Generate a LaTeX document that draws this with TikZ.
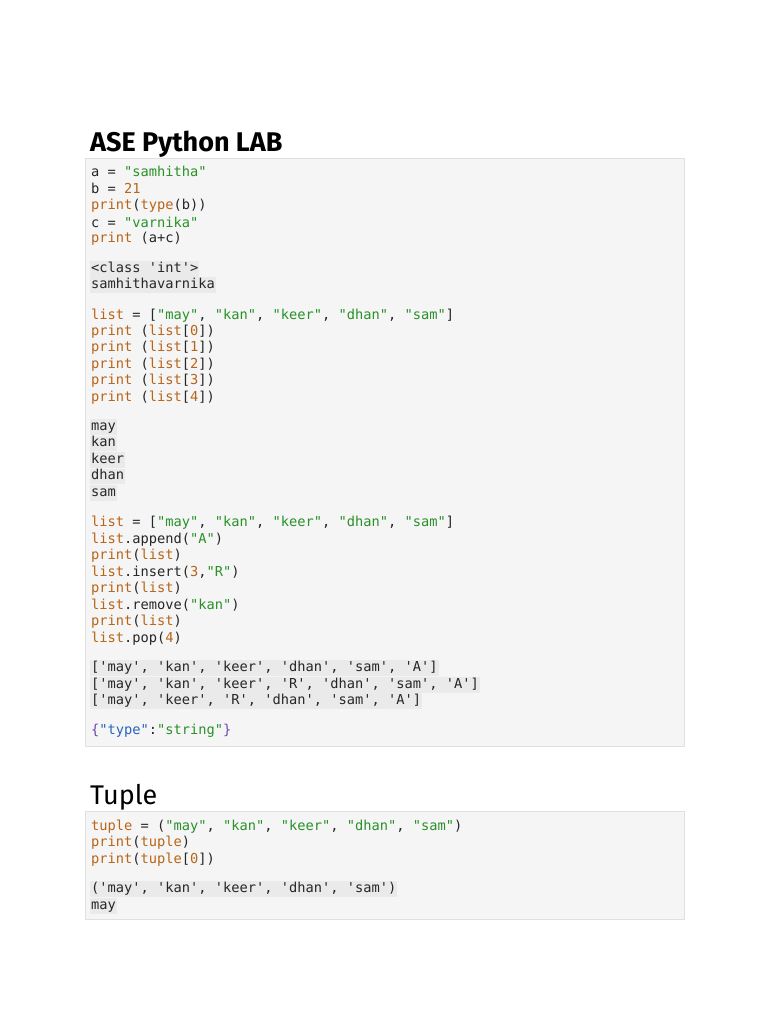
\documentclass[tikz,border=0pt]{standalone}
\usepackage{fontspec}
\setmainfont{Fira Sans}
\setmonofont{DejaVu Sans Mono}
\definecolor{kw}{RGB}{184,101,24}
\definecolor{st}{RGB}{40,145,40}
\definecolor{jb}{RGB}{40,100,190}
\definecolor{br}{RGB}{110,70,170}
\definecolor{cellbg}{RGB}{245,245,245}
\definecolor{cellrule}{RGB}{224,224,224}
\definecolor{outbg}{RGB}{234,234,234}
\newcommand\kw[1]{\textcolor{kw}{#1}}
\newcommand\st[1]{\textcolor{st}{#1}}
\tikzset{
  code/.style={anchor=base west, inner xsep=0pt, inner ysep=0pt, font=\ttfamily\fontsize{13.7}{16}\selectfont, text=black!85},
  outl/.style={code, fill=outbg, inner xsep=1pt, text height=11pt, text depth=4.5pt},
  cell/.style={fill=cellbg, draw=cellrule, line width=0.8pt},
  heading/.style={anchor=base west, inner sep=0pt, font=\fontsize{27}{30}\selectfont}
}
\begin{document}
\begin{tikzpicture}[x=1pt,y=-1pt]
\useasboundingbox (0,0) rectangle (768,1024);
\fill[white] (0,0) rectangle (768,1024);
% first notebook cell
\node[heading] (title) at (90,152) {\bfseries ASE Python LAB};
\draw[cell] (85,158) rectangle (684,746);
\node[code] (a1) at (91,177) {a = \st{"samhitha"}};
\node[code] (a2) at (91,194) {b = \kw{21}};
\node[code] (a3) at (91,210) {\kw{print}(\kw{type}(b))};
\node[code] (a4) at (91,227) {c = \st{"varnika"}};
\node[code] (a5) at (91,243) {\kw{print} (a+c)};
\node[outl] (o1) at (90,272) {<class 'int'>};
\node[outl] (o2) at (90,288) {samhithavarnika};
% indexing
\node[code] (b1) at (91,319) {\kw{list} = [\st{"may"}, \st{"kan"}, \st{"keer"}, \st{"dhan"}, \st{"sam"}]};
\foreach \i [count=\n] in {0,...,4}
  \node[code] (b\n) at (91,335+16.5*\i) {\kw{print} (\kw{list}[\kw{\i}])};
\foreach \w [count=\n] in {may,kan,keer,dhan,sam}
  \node[outl] (p\n) at (90,430+16.5*\n-16.5) {\w};
% list methods
\node[code] (c1) at (91,526) {\kw{list} = [\st{"may"}, \st{"kan"}, \st{"keer"}, \st{"dhan"}, \st{"sam"}]};
\node[code] (c2) at (91,543) {\kw{list}.append(\st{"A"})};
\node[code] (c3) at (91,559) {\kw{print}(\kw{list})};
\node[code] (c4) at (91,576) {\kw{list}.insert(\kw{3},\st{"R"})};
\node[code] (c5) at (91,592) {\kw{print}(\kw{list})};
\node[code] (c6) at (91,609) {\kw{list}.remove(\st{"kan"})};
\node[code] (c7) at (91,625) {\kw{print}(\kw{list})};
\node[code] (c8) at (91,642) {\kw{list}.pop(\kw{4})};
\node[outl] (q1) at (90,671) {['may', 'kan', 'keer', 'dhan', 'sam', 'A']};
\node[outl] (q2) at (90,688) {['may', 'kan', 'keer', 'R', 'dhan', 'sam', 'A']};
\node[outl] (q3) at (90,704) {['may', 'keer', 'R', 'dhan', 'sam', 'A']};
\node[code] (js) at (91,734) {\textcolor{br}{\{}\textcolor{jb}{"type"}:\st{"string"}\textcolor{br}{\}}};
% tuple cell
\node[heading] (tup) at (90,804) {Tuple};
\draw[cell] (85,811) rectangle (684,919);
\node[code] (t1) at (91,830) {\kw{tuple} = (\st{"may"}, \st{"kan"}, \st{"keer"}, \st{"dhan"}, \st{"sam"})};
\node[code] (t2) at (91,846) {\kw{print}(\kw{tuple})};
\node[code] (t3) at (91,863) {\kw{print}(\kw{tuple}[\kw{0}])};
\node[outl] (r1) at (90,892) {('may', 'kan', 'keer', 'dhan', 'sam')};
\node[outl] (r2) at (90,909) {may};
\end{tikzpicture}
\end{document}
